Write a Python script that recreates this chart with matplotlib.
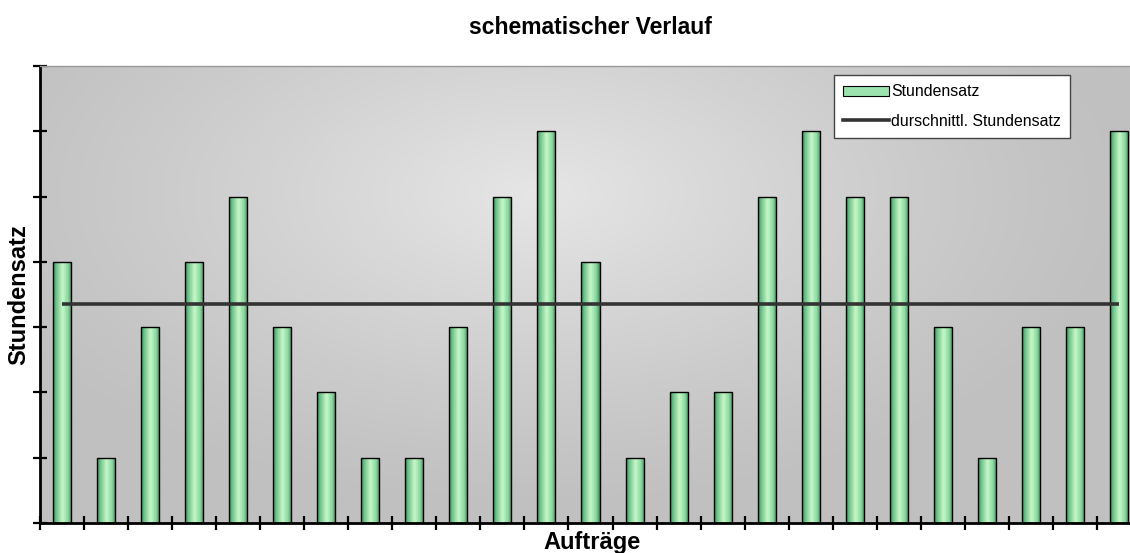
import numpy as np
import matplotlib
matplotlib.use("Agg")
import matplotlib.pyplot as plt
from matplotlib.patches import Patch
from matplotlib.lines import Line2D
from matplotlib.colors import LinearSegmentedColormap

plt.rcParams['font.family'] = ['Liberation Sans', 'DejaVu Sans']

# Data
auftraege = list(range(1, 26))
stundensatz = [4, 1, 3, 4, 5, 3, 2, 1, 1, 3, 5, 6, 4, 1, 2, 2, 5, 6, 5, 5, 3, 1, 3, 3, 6]
durchschnitt = 3.36
y_ticks = [0, 1, 2, 3, 4, 5, 6, 7]

W, H = 1130, 553
fig = plt.figure(figsize=(W / 100, H / 100), dpi=100)
left, right, top, bottom = 40, 1141, 66, 523
ax = fig.add_axes([left / W, 1 - bottom / H, (right - left) / W, (bottom - top) / H])

ax.set_xlim(0.5, 25.5)
ax.set_ylim(0, 7)

# background gradient
nx, ny = 400, 200
gx = np.linspace(0, 1, nx)
gy = np.linspace(0, 1, ny)
X, Y = np.meshgrid(gx, gy)
d = np.sqrt(((X - 0.45) / 0.55) ** 2 + ((Y - 0.72) / 0.7) ** 2)
val = np.clip(1 - d, 0, 1) ** 1.2
bg = 192 + (230 - 192) * val
img = np.dstack([bg, bg, bg]) / 255.0
ax.imshow(img, extent=[0.5, 25.5, 0, 7], origin='lower', aspect='auto', zorder=0,
          interpolation='bilinear')

# bars with cylinder gradient
width = 0.41
cmap = LinearSegmentedColormap.from_list(
    'cyl', [(0.0, '#3f8f5c'), (0.18, '#6fc48c'), (0.5, '#c8f7c8'), (0.8, '#8ad8a0'), (1.0, '#3f8f5c')])
grad = np.linspace(0, 1, 64).reshape(1, -1)
bars = ax.bar(auftraege, stundensatz, width=width, color='none', edgecolor='black',
              linewidth=1.0, zorder=3)
for b in bars:
    x0 = b.get_x()
    h = b.get_height()
    im = ax.imshow(grad, extent=[x0, x0 + width, 0, h], origin='lower', aspect='auto',
                   cmap=cmap, zorder=2, interpolation='bilinear')
    im.set_clip_path(b)

ax.set_xlim(0.5, 25.5)
ax.set_ylim(0, 7)

# average line
ax.plot(auftraege, [durchschnitt] * len(auftraege), color='#333333', linewidth=2.6,
        zorder=4, solid_capstyle='butt')

# spines and ticks
ax.spines['right'].set_visible(False)
ax.spines['top'].set_color('#999999')
ax.spines['top'].set_linewidth(1.0)
ax.spines['left'].set_linewidth(2)
ax.spines['bottom'].set_linewidth(2)
ax.set_yticks(y_ticks)
ax.set_xticks(np.arange(0.5, 26, 1))
ax.tick_params(axis='both', direction='inout', length=10, width=1.6, labelleft=False,
               labelbottom=False)

fig.text(590 / W, 1 - 27 / H, 'schematischer Verlauf', fontsize=16.5, fontweight='bold',
         ha='center', va='center')
fig.text(592 / W, 1 - 543 / H, 'Aufträge', fontsize=17, fontweight='bold',
         ha='center', va='center')
fig.text(19 / W, 1 - 295 / H, 'Stundensatz', fontsize=17, fontweight='bold',
         ha='center', va='center', rotation=90)

handles = [Patch(facecolor='#9be3ae', edgecolor='black', linewidth=0.8),
           Line2D([0], [0], color='#333333', linewidth=2.6)]
leg = fig.legend(handles, ['Stundensatz', 'durschnittl. Stundensatz'],
                 loc='upper left', bbox_to_anchor=(834 / W, 1 - 75 / H),
                 fontsize=11.4, frameon=True, fancybox=False, edgecolor='#444444',
                 facecolor='white', framealpha=1.0,
                 handlelength=2.9, handleheight=0.6, handletextpad=0.1,
                 borderpad=0.6, labelspacing=0.9, borderaxespad=0)
leg.get_frame().set_linewidth(1.0)

fig.savefig('out.png', dpi=100)
